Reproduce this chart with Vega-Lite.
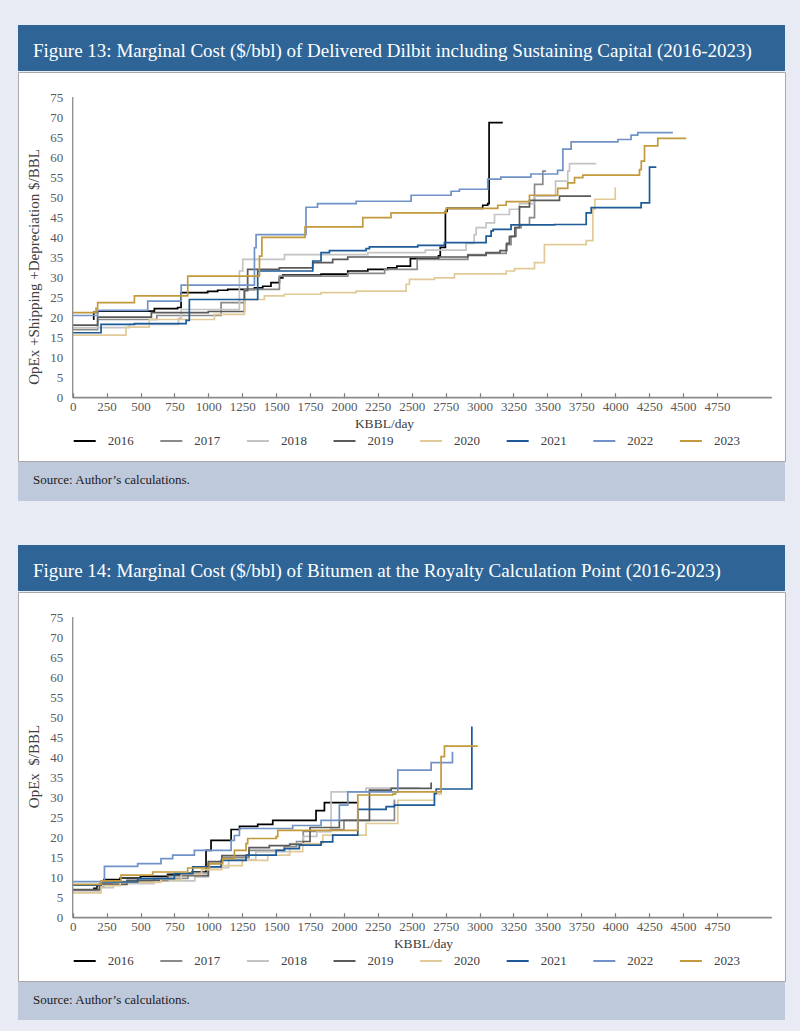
{
"$schema":"https://vega.github.io/schema/vega-lite/v6.json",
"background":"#e8ebf3",
"padding":{"left":17,"top":25,"right":16,"bottom":15},
"config":{"font":"Liberation Serif","view":{"stroke":null},"axis":{"labelOverlap":false,"labelFlush":false}},
"datasets":{
"f13":[
{"year":"2016","x":150,"y":19.6},{"year":"2016","x":155,"y":21.3},{"year":"2016","x":184,"y":21.6},{"year":"2016","x":602,"y":22.2},{"year":"2016","x":774,"y":22.5},{"year":"2016","x":799,"y":26.2},{"year":"2016","x":995,"y":26.5},{"year":"2016","x":1069,"y":26.8},{"year":"2016","x":1143,"y":27.0},{"year":"2016","x":1340,"y":27.4},{"year":"2016","x":1401,"y":27.8},{"year":"2016","x":1462,"y":28.7},{"year":"2016","x":1524,"y":29.9},{"year":"2016","x":1549,"y":30.6},{"year":"2016","x":1831,"y":30.8},{"year":"2016","x":2028,"y":31.6},{"year":"2016","x":2176,"y":32.0},{"year":"2016","x":2323,"y":32.4},{"year":"2016","x":2390,"y":32.8},{"year":"2016","x":2490,"y":34.7},{"year":"2016","x":2697,"y":35.4},{"year":"2016","x":2710,"y":37.5},{"year":"2016","x":2748,"y":46.5},{"year":"2016","x":2760,"y":47.2},{"year":"2016","x":3023,"y":48.0},{"year":"2016","x":3060,"y":48.4},{"year":"2016","x":3070,"y":68.6},{"year":"2016","x":3171,"y":68.6},
{"year":"2017","x":0,"y":17.0},{"year":"2017","x":184,"y":19.5},{"year":"2017","x":620,"y":20.5},{"year":"2017","x":1094,"y":23.7},{"year":"2017","x":1266,"y":27.0},{"year":"2017","x":1524,"y":30.3},{"year":"2017","x":2028,"y":31.0},{"year":"2017","x":2300,"y":32.0},{"year":"2017","x":2540,"y":34.5},{"year":"2017","x":2913,"y":35.7},{"year":"2017","x":3048,"y":36.0},{"year":"2017","x":3196,"y":38.2},{"year":"2017","x":3232,"y":40.3},{"year":"2017","x":3269,"y":42.4},{"year":"2017","x":3306,"y":43.2},{"year":"2017","x":3368,"y":44.9},{"year":"2017","x":3405,"y":53.2},{"year":"2017","x":3466,"y":56.5},{"year":"2017","x":3490,"y":56.5},
{"year":"2018","x":0,"y":17.5},{"year":"2018","x":418,"y":18.3},{"year":"2018","x":780,"y":19.8},{"year":"2018","x":800,"y":22.0},{"year":"2018","x":1229,"y":31.6},{"year":"2018","x":1254,"y":34.5},{"year":"2018","x":1561,"y":35.7},{"year":"2018","x":2176,"y":36.2},{"year":"2018","x":2600,"y":36.8},{"year":"2018","x":2900,"y":38.5},{"year":"2018","x":2960,"y":40.7},{"year":"2018","x":2975,"y":42.4},{"year":"2018","x":3048,"y":43.6},{"year":"2018","x":3110,"y":45.7},{"year":"2018","x":3220,"y":47.0},{"year":"2018","x":3294,"y":48.4},{"year":"2018","x":3400,"y":50.3},{"year":"2018","x":3560,"y":54.0},{"year":"2018","x":3650,"y":56.5},{"year":"2018","x":3663,"y":58.4},{"year":"2018","x":3860,"y":58.4},
{"year":"2019","x":0,"y":18.1},{"year":"2019","x":184,"y":20.1},{"year":"2019","x":580,"y":21.2},{"year":"2019","x":1000,"y":21.5},{"year":"2019","x":1266,"y":26.7},{"year":"2019","x":1290,"y":32.0},{"year":"2019","x":1524,"y":32.4},{"year":"2019","x":1770,"y":33.7},{"year":"2019","x":1917,"y":34.5},{"year":"2019","x":2028,"y":35.1},{"year":"2019","x":2913,"y":35.5},{"year":"2019","x":3048,"y":36.2},{"year":"2019","x":3150,"y":36.7},{"year":"2019","x":3200,"y":38.5},{"year":"2019","x":3220,"y":40.2},{"year":"2019","x":3260,"y":42.4},{"year":"2019","x":3294,"y":47.6},{"year":"2019","x":3368,"y":49.2},{"year":"2019","x":3589,"y":50.3},{"year":"2019","x":3822,"y":50.3},
{"year":"2020","x":0,"y":15.6},{"year":"2020","x":393,"y":17.6},{"year":"2020","x":565,"y":19.5},{"year":"2020","x":1045,"y":20.8},{"year":"2020","x":1266,"y":24.5},{"year":"2020","x":1413,"y":25.4},{"year":"2020","x":1560,"y":25.8},{"year":"2020","x":1831,"y":26.2},{"year":"2020","x":2090,"y":26.6},{"year":"2020","x":2458,"y":28.3},{"year":"2020","x":2483,"y":29.5},{"year":"2020","x":2667,"y":29.9},{"year":"2020","x":2815,"y":30.9},{"year":"2020","x":3196,"y":31.6},{"year":"2020","x":3257,"y":32.2},{"year":"2020","x":3405,"y":33.7},{"year":"2020","x":3478,"y":38.2},{"year":"2020","x":3786,"y":39.2},{"year":"2020","x":3835,"y":47.0},{"year":"2020","x":3850,"y":49.5},{"year":"2020","x":4000,"y":52.5},
{"year":"2021","x":0,"y":16.2},{"year":"2021","x":209,"y":18.3},{"year":"2021","x":455,"y":18.5},{"year":"2021","x":836,"y":19.3},{"year":"2021","x":860,"y":24.5},{"year":"2021","x":1364,"y":31.6},{"year":"2021","x":1770,"y":34.1},{"year":"2021","x":1831,"y":36.2},{"year":"2021","x":1893,"y":36.7},{"year":"2021","x":2163,"y":37.2},{"year":"2021","x":2188,"y":37.6},{"year":"2021","x":2544,"y":38.0},{"year":"2021","x":2741,"y":38.7},{"year":"2021","x":3048,"y":40.3},{"year":"2021","x":3085,"y":41.6},{"year":"2021","x":3100,"y":42.0},{"year":"2021","x":3232,"y":43.1},{"year":"2021","x":3553,"y":43.2},{"year":"2021","x":3786,"y":46.1},{"year":"2021","x":3823,"y":47.4},{"year":"2021","x":4191,"y":48.6},{"year":"2021","x":4253,"y":57.5},{"year":"2021","x":4303,"y":57.5},
{"year":"2022","x":0,"y":20.5},{"year":"2022","x":184,"y":21.8},{"year":"2022","x":553,"y":24.1},{"year":"2022","x":800,"y":28.1},{"year":"2022","x":1340,"y":37.4},{"year":"2022","x":1352,"y":40.7},{"year":"2022","x":1720,"y":47.5},{"year":"2022","x":1805,"y":48.4},{"year":"2022","x":2090,"y":49.0},{"year":"2022","x":2495,"y":50.5},{"year":"2022","x":2790,"y":51.5},{"year":"2022","x":2851,"y":52.0},{"year":"2022","x":3060,"y":54.5},{"year":"2022","x":3157,"y":55.0},{"year":"2022","x":3378,"y":55.8},{"year":"2022","x":3575,"y":56.7},{"year":"2022","x":3614,"y":62.0},{"year":"2022","x":3675,"y":63.8},{"year":"2022","x":4020,"y":64.4},{"year":"2022","x":4117,"y":65.5},{"year":"2022","x":4166,"y":66.1},{"year":"2022","x":4425,"y":66.1},
{"year":"2023","x":0,"y":21.2},{"year":"2023","x":172,"y":22.3},{"year":"2023","x":184,"y":23.7},{"year":"2023","x":455,"y":25.4},{"year":"2023","x":848,"y":30.3},{"year":"2023","x":1377,"y":35.3},{"year":"2023","x":1395,"y":40.0},{"year":"2023","x":1713,"y":42.6},{"year":"2023","x":2139,"y":44.9},{"year":"2023","x":2347,"y":46.1},{"year":"2023","x":2753,"y":47.2},{"year":"2023","x":3134,"y":48.0},{"year":"2023","x":3196,"y":48.9},{"year":"2023","x":3368,"y":50.5},{"year":"2023","x":3576,"y":52.2},{"year":"2023","x":3650,"y":53.6},{"year":"2023","x":3700,"y":54.9},{"year":"2023","x":3761,"y":55.5},{"year":"2023","x":4179,"y":56.9},{"year":"2023","x":4192,"y":59.0},{"year":"2023","x":4216,"y":62.8},{"year":"2023","x":4314,"y":64.7},{"year":"2023","x":4523,"y":64.7}
],
"f14":[
{"year":"2016","x":150,"y":7.3},{"year":"2016","x":180,"y":8.0},{"year":"2016","x":230,"y":9.5},{"year":"2016","x":350,"y":9.9},{"year":"2016","x":500,"y":10.3},{"year":"2016","x":700,"y":10.8},{"year":"2016","x":880,"y":11.4},{"year":"2016","x":983,"y":16.8},{"year":"2016","x":1020,"y":19.3},{"year":"2016","x":1168,"y":22.0},{"year":"2016","x":1230,"y":22.8},{"year":"2016","x":1364,"y":23.3},{"year":"2016","x":1475,"y":24.3},{"year":"2016","x":1794,"y":26.7},{"year":"2016","x":1856,"y":28.7},{"year":"2016","x":2100,"y":28.7},
{"year":"2017","x":0,"y":6.8},{"year":"2017","x":200,"y":8.5},{"year":"2017","x":300,"y":9.0},{"year":"2017","x":600,"y":9.8},{"year":"2017","x":850,"y":11.2},{"year":"2017","x":1000,"y":13.5},{"year":"2017","x":1100,"y":15.0},{"year":"2017","x":1300,"y":16.8},{"year":"2017","x":1560,"y":17.7},{"year":"2017","x":1650,"y":19.0},{"year":"2017","x":1700,"y":21.5},{"year":"2017","x":1900,"y":22.0},{"year":"2017","x":2000,"y":24.3},{"year":"2017","x":2372,"y":29.5},
{"year":"2018","x":0,"y":6.3},{"year":"2018","x":190,"y":7.5},{"year":"2018","x":300,"y":8.5},{"year":"2018","x":600,"y":9.2},{"year":"2018","x":900,"y":10.2},{"year":"2018","x":1000,"y":12.5},{"year":"2018","x":1150,"y":14.5},{"year":"2018","x":1350,"y":16.5},{"year":"2018","x":1600,"y":18.5},{"year":"2018","x":1700,"y":20.3},{"year":"2018","x":1800,"y":21.5},{"year":"2018","x":1905,"y":31.4},{"year":"2018","x":2163,"y":32.3},{"year":"2018","x":2560,"y":32.3},
{"year":"2019","x":0,"y":7.0},{"year":"2019","x":200,"y":8.3},{"year":"2019","x":400,"y":9.3},{"year":"2019","x":700,"y":10.5},{"year":"2019","x":1000,"y":14.0},{"year":"2019","x":1100,"y":15.5},{"year":"2019","x":1300,"y":17.5},{"year":"2019","x":1450,"y":18.0},{"year":"2019","x":1600,"y":18.3},{"year":"2019","x":1700,"y":19.0},{"year":"2019","x":1750,"y":22.5},{"year":"2019","x":1966,"y":24.3},{"year":"2019","x":2188,"y":31.8},{"year":"2019","x":2348,"y":32.25},{"year":"2019","x":2643,"y":33.7},
{"year":"2020","x":0,"y":6.2},{"year":"2020","x":210,"y":8.0},{"year":"2020","x":350,"y":8.8},{"year":"2020","x":650,"y":9.5},{"year":"2020","x":800,"y":10.8},{"year":"2020","x":950,"y":12.0},{"year":"2020","x":1100,"y":13.0},{"year":"2020","x":1250,"y":14.3},{"year":"2020","x":1438,"y":15.6},{"year":"2020","x":1600,"y":16.5},{"year":"2020","x":1696,"y":18.5},{"year":"2020","x":1844,"y":20.6},{"year":"2020","x":2163,"y":23.5},{"year":"2020","x":2397,"y":29.3},{"year":"2020","x":2667,"y":30.8},{"year":"2020","x":2716,"y":31.4},
{"year":"2021","x":0,"y":8.1},{"year":"2021","x":209,"y":8.9},{"year":"2021","x":479,"y":9.75},{"year":"2021","x":750,"y":11.0},{"year":"2021","x":885,"y":12.7},{"year":"2021","x":1094,"y":14.3},{"year":"2021","x":1278,"y":15.6},{"year":"2021","x":1500,"y":16.8},{"year":"2021","x":1561,"y":17.25},{"year":"2021","x":1671,"y":18.1},{"year":"2021","x":1831,"y":18.9},{"year":"2021","x":1917,"y":20.6},{"year":"2021","x":2102,"y":27.0},{"year":"2021","x":2311,"y":27.7},{"year":"2021","x":2372,"y":28.1},{"year":"2021","x":2667,"y":31.0},{"year":"2021","x":2680,"y":32.1},{"year":"2021","x":2943,"y":47.7},
{"year":"2022","x":0,"y":9.0},{"year":"2022","x":234,"y":12.8},{"year":"2022","x":479,"y":13.5},{"year":"2022","x":651,"y":14.75},{"year":"2022","x":737,"y":15.6},{"year":"2022","x":897,"y":16.8},{"year":"2022","x":1168,"y":19.3},{"year":"2022","x":1192,"y":20.5},{"year":"2022","x":1229,"y":22.25},{"year":"2022","x":1622,"y":23.0},{"year":"2022","x":1831,"y":24.3},{"year":"2022","x":1966,"y":28.1},{"year":"2022","x":2028,"y":31.4},{"year":"2022","x":2397,"y":36.8},{"year":"2022","x":2643,"y":38.7},{"year":"2022","x":2800,"y":41.4},
{"year":"2023","x":0,"y":8.3},{"year":"2023","x":209,"y":9.2},{"year":"2023","x":356,"y":10.6},{"year":"2023","x":590,"y":11.4},{"year":"2023","x":848,"y":12.4},{"year":"2023","x":1008,"y":13.5},{"year":"2023","x":1106,"y":14.75},{"year":"2023","x":1192,"y":16.8},{"year":"2023","x":1278,"y":18.5},{"year":"2023","x":1290,"y":19.75},{"year":"2023","x":1500,"y":20.2},{"year":"2023","x":1512,"y":21.8},{"year":"2023","x":2102,"y":30.6},{"year":"2023","x":2360,"y":30.8},{"year":"2023","x":2380,"y":31.4},{"year":"2023","x":2716,"y":40.2},{"year":"2023","x":2741,"y":42.8},{"year":"2023","x":2987,"y":42.8}
]
},
"spacing":44,
"resolve":{"scale":{"color":"independent","x":"independent","y":"independent"},"legend":{"color":"independent"}},
"vconcat":[
{
"spacing":0,
"vconcat":[
{"width":767,"height":46,"view":{"fill":"#2e6496","stroke":null},
 "title":{"text":"Figure 13: Marginal Cost ($/bbl) of Delivered Dilbit including Sustaining Capital (2016-2023)","orient":"top","anchor":"start","frame":"group","offset":-51,"dx":15,"font":"Liberation Serif","fontSize":19,"fontWeight":"normal","color":"#ffffff","baseline":"alphabetic"},
 "data":{"values":[]},"mark":"text"},
{"width":767,"height":389,"view":{"fill":"#ffffff","stroke":"#a9a9a9"},
 "layer":[
  {"data":{"name":"f13"},"mark":{"type":"line","interpolate":"step-after","strokeWidth":1.7},
   "encoding":{
    "x":{"field":"x","type":"quantitative","scale":{"domain":[-403.3,5251.8],"nice":false,"zero":false},
      "axis":{"orient":"bottom","offset":-63.3,"values":[0,250,500,750,1000,1250,1500,1750,2000,2250,2500,2750,3000,3250,3500,3750,4000,4250,4500,4750],"tickCount":40,"format":"d","domain":false,"grid":false,"tickSize":-5,"tickColor":"#7f7f7f","tickWidth":1.2,"labelFont":"Liberation Serif","labelFontSize":13,"labelColor":"#595959","labelPadding":8,"labelFlush":false,"labelOverlap":false,"title":"KBBL/day","titleFont":"Liberation Serif","titleFontSize":13.5,"titleFontWeight":"normal","titleColor":"#404040","titlePadding":3,"titleX":366}},
    "y":{"field":"y","type":"quantitative","scale":{"domain":[-15.79,81.24],"nice":false,"zero":false},
      "axis":{"orient":"left","offset":-54.7,"values":[0,5,10,15,20,25,30,35,40,45,50,55,60,65,70,75],"tickCount":40,"format":"d","domain":false,"grid":false,"ticks":false,"labelFont":"Liberation Serif","labelFontSize":13,"labelColor":"#595959","labelPadding":10,"labelOverlap":false,"labelFlush":false,"title":"OpEx +Shipping +Depreciation $/BBL","titleFont":"Liberation Serif","titleFontSize":15,"titleFontWeight":"normal","titleColor":"#404040","titlePadding":8}},
    "color":{"field":"year","type":"nominal","scale":{"domain":["2016","2017","2018","2019","2020","2021","2022","2023"],"range":["#000000","#8a8a8a","#c4c4c4","#5a5a5a","#e1ca98","#1c5a98","#7092c6","#c29a3c"]},
      "legend":{"orient":"none","legendX":54.7,"legendY":404,"direction":"horizontal","title":null,"symbolType":"stroke","symbolStrokeWidth":2,"symbolSize":484,"labelFont":"Liberation Serif","labelFontSize":13,"labelColor":"#404040","labelOffset":11,"columnPadding":22.6}}
   }},
  {"data":{"values":[{}]},"mark":{"type":"rule","color":"#8c8c8c","strokeWidth":1.3},
   "encoding":{"x":{"datum":0,"type":"quantitative"},"y":{"datum":0,"type":"quantitative"},"y2":{"datum":75}}},
  {"data":{"values":[{}]},"mark":{"type":"rule","color":"#8c8c8c","strokeWidth":1.8},
   "encoding":{"x":{"datum":0,"type":"quantitative"},"x2":{"datum":5155},"y":{"datum":0,"type":"quantitative"}}}
 ]},
{"width":767,"height":39,"view":{"fill":"#bfc9dc","stroke":null},
 "title":{"text":"Source: Author’s calculations.","orient":"top","anchor":"start","frame":"group","offset":-35,"dx":15,"font":"Liberation Serif","fontSize":13,"fontWeight":"normal","color":"#1a1a1a","baseline":"alphabetic"},
 "data":{"values":[]},"mark":"text"}
]
},
{
"spacing":0,
"vconcat":[
{"width":767,"height":46,"view":{"fill":"#2e6496","stroke":null},
 "title":{"text":"Figure 14: Marginal Cost ($/bbl) of Bitumen at the Royalty Calculation Point (2016-2023)","orient":"top","anchor":"start","frame":"group","offset":-51,"dx":15,"font":"Liberation Serif","fontSize":19,"fontWeight":"normal","color":"#ffffff","baseline":"alphabetic"},
 "data":{"values":[]},"mark":"text"},
{"width":767,"height":389,"view":{"fill":"#ffffff","stroke":"#a9a9a9"},
 "layer":[
  {"data":{"name":"f14"},"mark":{"type":"line","interpolate":"step-after","strokeWidth":1.7},
   "encoding":{
    "x":{"field":"x","type":"quantitative","scale":{"domain":[-403.3,5251.8],"nice":false,"zero":false},
      "axis":{"orient":"bottom","offset":-63.3,"values":[0,250,500,750,1000,1250,1500,1750,2000,2250,2500,2750,3000,3250,3500,3750,4000,4250,4500,4750],"tickCount":40,"format":"d","domain":false,"grid":false,"tickSize":-5,"tickColor":"#7f7f7f","tickWidth":1.2,"labelFont":"Liberation Serif","labelFontSize":13,"labelColor":"#595959","labelPadding":8,"labelFlush":false,"labelOverlap":false,"title":"KBBL/day","titleFont":"Liberation Serif","titleFontSize":13.5,"titleFontWeight":"normal","titleColor":"#404040","titlePadding":3,"titleX":405}},
    "y":{"field":"y","type":"quantitative","scale":{"domain":[-15.79,81.24],"nice":false,"zero":false},
      "axis":{"orient":"left","offset":-54.7,"values":[0,5,10,15,20,25,30,35,40,45,50,55,60,65,70,75],"tickCount":40,"format":"d","domain":false,"grid":false,"ticks":false,"labelFont":"Liberation Serif","labelFontSize":13,"labelColor":"#595959","labelPadding":10,"labelOverlap":false,"labelFlush":false,"title":"OpEx\u00a0 $/BBL","titleFont":"Liberation Serif","titleFontSize":15,"titleFontWeight":"normal","titleColor":"#404040","titlePadding":8,"titleY":174}},
    "color":{"field":"year","type":"nominal","scale":{"domain":["2016","2017","2018","2019","2020","2021","2022","2023"],"range":["#000000","#8a8a8a","#c4c4c4","#5a5a5a","#e1ca98","#1c5a98","#7092c6","#c29a3c"]},
      "legend":{"orient":"none","legendX":54.7,"legendY":404,"direction":"horizontal","title":null,"symbolType":"stroke","symbolStrokeWidth":2,"symbolSize":484,"labelFont":"Liberation Serif","labelFontSize":13,"labelColor":"#404040","labelOffset":11,"columnPadding":22.6}}
   }},
  {"data":{"values":[{}]},"mark":{"type":"rule","color":"#8c8c8c","strokeWidth":1.3},
   "encoding":{"x":{"datum":0,"type":"quantitative"},"y":{"datum":0,"type":"quantitative"},"y2":{"datum":75}}},
  {"data":{"values":[{}]},"mark":{"type":"rule","color":"#8c8c8c","strokeWidth":1.8},
   "encoding":{"x":{"datum":0,"type":"quantitative"},"x2":{"datum":5155},"y":{"datum":0,"type":"quantitative"}}}
 ]},
{"width":767,"height":38,"view":{"fill":"#bfc9dc","stroke":null},
 "title":{"text":"Source: Author’s calculations.","orient":"top","anchor":"start","frame":"group","offset":-35,"dx":15,"font":"Liberation Serif","fontSize":13,"fontWeight":"normal","color":"#1a1a1a","baseline":"alphabetic"},
 "data":{"values":[]},"mark":"text"}
]
}
]
}
